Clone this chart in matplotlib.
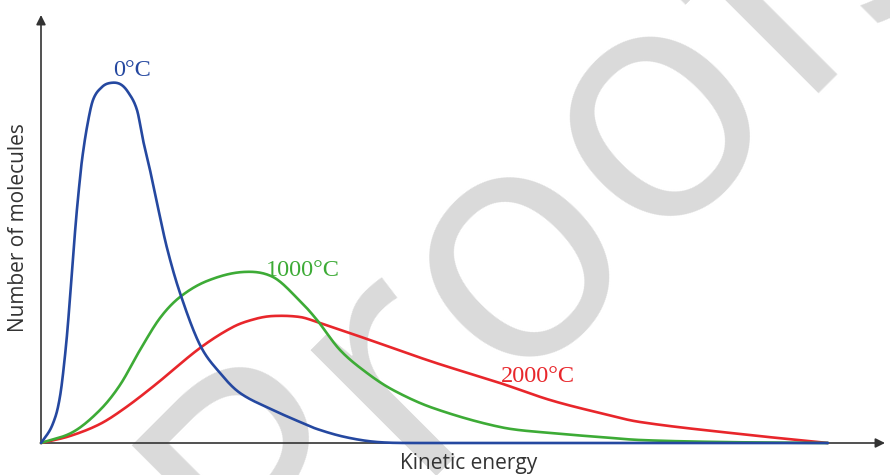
import numpy as np
import matplotlib
matplotlib.use("Agg")
import matplotlib.pyplot as plt

# Arbitrary units (energy, number of molecules)
energy_0 = [0, 9, 14, 17, 20, 23, 26, 29, 32, 35, 38, 41, 46, 52, 61, 69, 79, 87, 96,
            102, 109, 116, 126, 139, 159, 179, 199, 232, 259, 276, 304, 336, 379, 787]
count_0 = [0, 13, 25, 36, 53, 78, 108, 145, 185, 223, 255, 283, 316, 343, 356, 360,
           359, 351, 333, 303, 273, 240, 195, 150, 98, 70, 50, 33, 21, 14, 6, 1, 0, 0]

energy_1000 = [0, 32, 59, 79, 99, 119, 139, 166, 202, 232, 259, 276, 299, 326, 352,
               392, 459, 509, 559, 599, 679, 787]
count_1000 = [0, 11, 33, 58, 93, 125, 146, 162, 171, 166, 142, 123, 93, 70, 53,
              35, 16, 10, 6, 3, 1, 0]

energy_2000 = [0, 29, 59, 84, 114, 159, 192, 214, 232, 259, 276, 326, 392, 459, 509,
               559, 599, 699, 787]
count_2000 = [0, 7, 19, 35, 58, 95, 116, 124, 127, 126, 121, 104, 81, 60, 43,
              30, 21, 9, 0]

labels = ["0°C", "1000°C", "2000°C"]
label_pos = [(91, 373), (262, 173), (497, 67)]
colors = ["#2548a0", "#3dab36", "#e8262b"]


def smooth(x, y, n=25):
    # cubic Hermite through the read points (drawing only)
    x = np.asarray(x, float)
    y = np.asarray(y, float)
    m = np.zeros_like(y)
    m[1:-1] = (y[2:] - y[:-2]) / (x[2:] - x[:-2])
    m[0] = (y[1] - y[0]) / (x[1] - x[0])
    m[-1] = (y[-1] - y[-2]) / (x[-1] - x[-2])
    xs, ys = [], []
    t = np.linspace(0, 1, n, endpoint=False)
    for i in range(len(x) - 1):
        h = x[i + 1] - x[i]
        h00 = 2 * t ** 3 - 3 * t ** 2 + 1
        h10 = t ** 3 - 2 * t ** 2 + t
        h01 = -2 * t ** 3 + 3 * t ** 2
        h11 = t ** 3 - t ** 2
        xs.extend(x[i] + h * t)
        ys.extend(h00 * y[i] + h10 * h * m[i] + h01 * y[i + 1] + h11 * h * m[i + 1])
    xs.append(x[-1])
    ys.append(y[-1])
    return np.array(xs), np.maximum(np.array(ys), 0)


W, H = 890, 475
fig = plt.figure(figsize=(W / 100, H / 100), dpi=100)
ax = fig.add_axes([41 / W, 32 / H, 844 / W, 428 / H])
ax.patch.set_visible(False)
ax.set_xlim(0, 844)
ax.set_ylim(0, 428)
for s in ax.spines.values():
    s.set_visible(False)
ax.set_xticks([])
ax.set_yticks([])

# watermark
fig.text(268 / W, 1 - 613 / H, "Proofs", rotation=45, rotation_mode="anchor",
         ha="left", va="baseline", fontsize=238, family="Open Sans",
         color="#dadada", zorder=-5)

# axes with arrows
arrow = dict(arrowstyle="-|>", color="#333333", lw=1.2, mutation_scale=14,
             shrinkA=0, shrinkB=0)
ax.annotate("", xy=(1, 0), xytext=(0, 0), xycoords="axes fraction", arrowprops=arrow)
ax.annotate("", xy=(0, 1), xytext=(0, 0), xycoords="axes fraction", arrowprops=arrow)

series = [(energy_0, count_0), (energy_1000, count_1000), (energy_2000, count_2000)]
for (e, c), col in zip(series[::-1], colors[::-1]):
    xs, ys = smooth(e, c)
    ax.plot(xs, ys, color=col, lw=1.9, solid_capstyle="round", clip_on=False, zorder=3)

for lab, (lx, ly), col in zip(labels, label_pos, colors):
    ax.text(lx, ly, lab, color=col, fontsize=17.5, family="Liberation Serif",
            ha="center", va="center")

fig.text(469 / W, 1 - 463 / H, "Kinetic energy", ha="center", va="center",
         fontsize=15, family="Open Sans", color="#333333")
fig.text(19 / W, 1 - 228 / H, "Number of molecules", ha="center", va="center",
         rotation=90, fontsize=15, family="Open Sans", color="#333333")

fig.savefig("out.png", dpi=100)
